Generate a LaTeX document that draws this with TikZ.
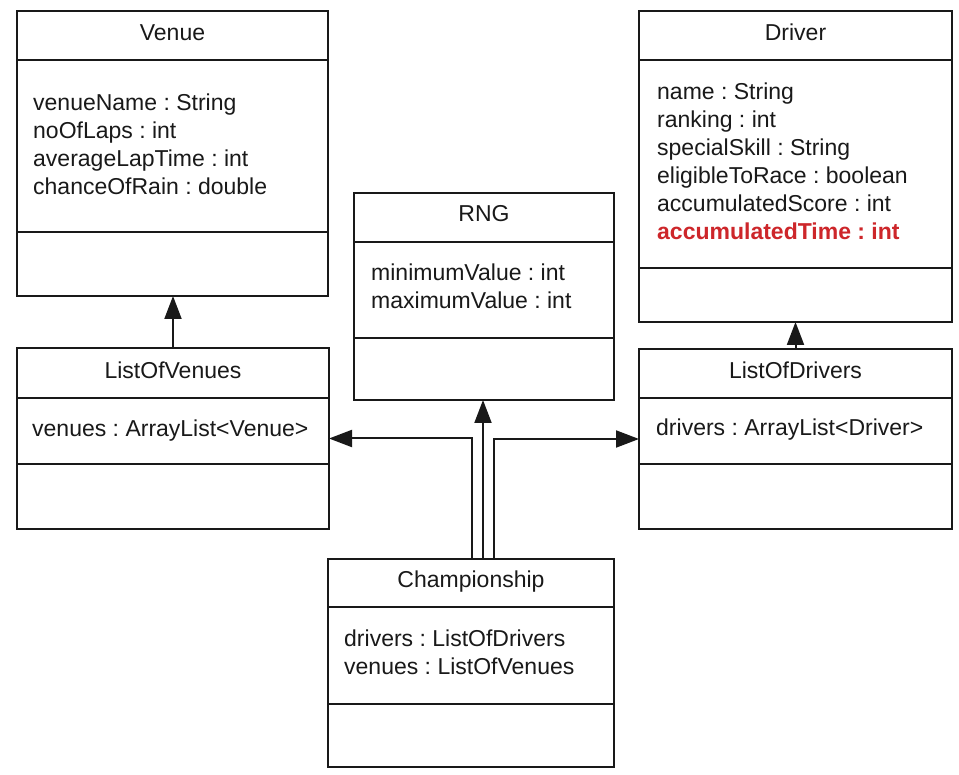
\documentclass[tikz,border=0pt]{standalone}
\usepackage{fontspec}
\setmainfont{Liberation Sans}
\usetikzlibrary{arrows.meta}
\definecolor{redattr}{RGB}{205,38,42}
\definecolor{ink}{RGB}{25,25,25}
\frenchspacing
\begin{document}
\begin{tikzpicture}[x=1pt,y=-1pt,
  box/.style={draw=ink, line width=2pt, rectangle, inner sep=0pt, outer sep=0pt},
  divider/.style={draw=ink, line width=2pt},
  title/.style={font=\fontsize{23}{28}\selectfont, text=ink, inner sep=0pt, anchor=base},
  attrs/.style={font=\fontsize{23}{28}\selectfont, text=ink, inner sep=0pt, anchor=west, align=left},
  conn/.style={draw=ink, line width=2pt, -{Triangle[length=23pt,width=17pt]}},
]
\useasboundingbox (0,0) rectangle (959,775);
\fill[white] (0,0) rectangle (959,775);

% Venue
\node[box, minimum width=311pt, minimum height=285pt] (venue) at (172.5,153.5) {};
\draw[divider] (17,60) -- (328,60);
\draw[divider] (17,232) -- (328,232);
\node[title] (venueT) at (172.5,41) {Venue};
\node[attrs] (venueA) at (33,144) {venueName : String\\noOfLaps : int\\averageLapTime : int\\chanceOfRain : double};

% Driver
\node[box, minimum width=313pt, minimum height=311pt] (driver) at (795.5,166.5) {};
\draw[divider] (639,60) -- (952,60);
\draw[divider] (639,268) -- (952,268);
\node[title] (driverT) at (795.5,41) {Driver};
\node[attrs] (driverA) at (657,161) {name : String\\ranking : int\\specialSkill : String\\eligibleToRace : boolean\\accumulatedScore : int\\\textcolor{redattr}{\bfseries accumulatedTime : int}};

% RNG
\node[box, minimum width=260pt, minimum height=207pt] (rng) at (484,296.5) {};
\draw[divider] (354,242) -- (614,242);
\draw[divider] (354,338) -- (614,338);
\node[title] (rngT) at (484,222) {RNG};
\node[attrs] (rngA) at (371,286) {minimumValue : int\\maximumValue : int};

% ListOfVenues
\node[box, minimum width=312pt, minimum height=181pt] (lov) at (173,438.5) {};
\draw[divider] (17,398) -- (329,398);
\draw[divider] (17,464) -- (329,464);
\node[title] (lovT) at (173,379) {ListOfVenues};
\node[attrs] (lovA) at (32,431) {venues : ArrayList<Venue>};

% ListOfDrivers
\node[box, minimum width=313pt, minimum height=180pt] (lod) at (795.5,439) {};
\draw[divider] (639,398) -- (952,398);
\draw[divider] (639,464) -- (952,464);
\node[title] (lodT) at (795.5,379) {ListOfDrivers};
\node[attrs] (lodA) at (656,430) {drivers : ArrayList<Driver>};

% Championship
\node[box, minimum width=286pt, minimum height=208pt] (champ) at (471,663) {};
\draw[divider] (328,607) -- (614,607);
\draw[divider] (328,704) -- (614,704);
\node[title] (champT) at (471,587) {Championship};
\node[attrs] (champA) at (344,652) {drivers : ListOfDrivers\\venues : ListOfVenues};

% connectors
\draw[conn] (lov.north) -- (lov.north |- venue.south);
\draw[conn] (lod.north) -- (lod.north |- driver.south);
\draw[conn] ([xshift=1pt]champ.north) |- (lov.east);
\draw[conn] ([xshift=12pt]champ.north) -- ([xshift=12pt]champ.north |- rng.south);
\draw[conn] ([xshift=23pt]champ.north) |- (lod.west);
\end{tikzpicture}
\end{document}
